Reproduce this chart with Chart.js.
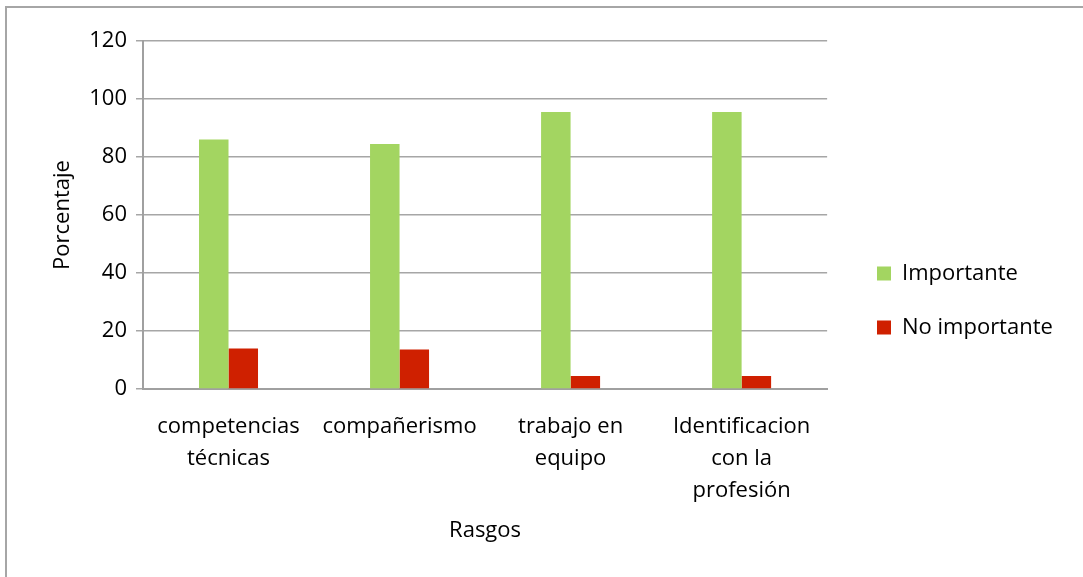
<!DOCTYPE html>
<html>
<head>
<meta charset="utf-8">
<script src="https://cdn.jsdelivr.net/npm/chart.js@4/dist/chart.umd.min.js"></script>
<style>
  html, body { margin: 0; padding: 0; background: #fff; }
  #wrap { position: relative; width: 1083px; height: 577px; overflow: hidden; }
  #frame { position: absolute; left: 5px; top: 6px; width: 1200px; height: 700px;
           border-left: 2px solid #a6a6a6; border-top: 2px solid #a6a6a6; box-sizing: border-box; }
  canvas { position: absolute; left: 0; top: 0; }
</style>
</head>
<body>
<div id="wrap">
  <div id="frame"></div>
  <canvas id="chart" width="1083" height="577"></canvas>
</div>
<script>
// data
const categories = [["competencias", "técnicas"], ["compañerismo"], ["trabajo en", "equipo"], ["Identificacion", "con la", "profesión"]];
const importante = [86, 84.5, 95.5, 95.5];
const noImportante = [14, 13.6, 4.5, 4.5];
const yTicks = [0, 20, 40, 60, 80, 100, 120];

const fontFamily = "'Open Sans', sans-serif";

// nudge the legend to where it sits in the original
const legendShift = {
  id: "legendShift",
  afterLayout(chart) {
    const lg = chart.legend;
    const dx = 877 - (lg.left + lg.options.labels.padding);
    lg.left += dx;
    lg.right += dx;
    const dy = 8;
    lg.top += dy;
    lg.bottom += dy;
  },
};

const ctx = document.getElementById("chart").getContext("2d");

new Chart(ctx, {
  type: "bar",
  data: {
    labels: categories,
    datasets: [
      {
        label: "Importante",
        data: importante,
        backgroundColor: "#a3d561",
      },
      {
        label: "No importante",
        data: noImportante,
        backgroundColor: "#cf2000",
      },
    ],
  },
  options: {
    responsive: false,
    animation: false,
    layout: { padding: { left: 50, top: 41, right: 38, bottom: 33 } },
    datasets: { bar: { barPercentage: 1, categoryPercentage: 0.345 } },
    scales: {
      x: {
        grid: { display: false },
        border: { display: true, color: "#a0a0a0", width: 2 },
        ticks: {
          color: "#000",
          padding: 14,
          maxRotation: 0,
          autoSkip: false,
          font: { family: fontFamily, size: 22, lineHeight: 1.45 },
        },
        title: {
          display: true,
          text: "Rasgos",
          color: "#000",
          padding: 0,
          font: { family: fontFamily, size: 22 },
        },
        afterFit: function (scale) {
          scale.height = 155;
        },
      },
      y: {
        min: 0,
        max: 120,
        afterBuildTicks: function (scale) {
          scale.ticks = yTicks.map(function (v) { return { value: v }; });
        },
        grid: { color: "#a6a6a6", lineWidth: 1.5, tickLength: 7 },
        border: { display: true, color: "#a0a0a0", width: 2 },
        ticks: {
          color: "#000",
          padding: 9,
          font: { family: fontFamily, size: 22 },
        },
        title: {
          display: true,
          text: "Porcentaje",
          color: "#000",
          padding: 0,
          font: { family: fontFamily, size: 22 },
        },
        afterFit: function (scale) {
          scale.width = 93;
        },
      },
    },
    plugins: {
      legend: {
        position: "right",
        labels: {
          color: "#000",
          boxWidth: 14,
          boxHeight: 14,
          padding: 32,
          font: { family: fontFamily, size: 22 },
        },
      },
      tooltip: { enabled: false },
    },
  },
  plugins: [legendShift],
});
</script>
</body>
</html>
